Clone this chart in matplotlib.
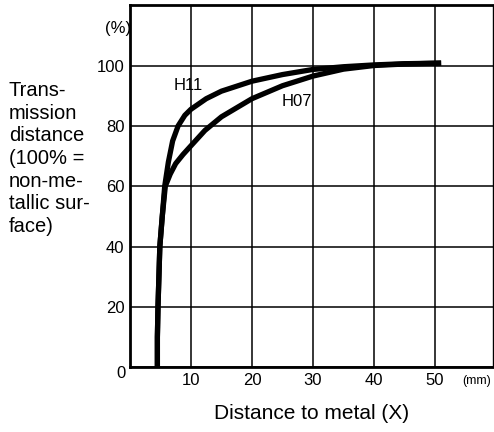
"""Transmission distance vs. distance to metal for H11 and H07 tags."""

import matplotlib
matplotlib.use("Agg")
import matplotlib.pyplot as plt
from matplotlib import font_manager

# values
h11_x = [4.5, 4.5, 4.6, 4.9, 5.3, 5.7, 6.3, 7.0, 7.9, 9.0, 10.0, 12.5, 15.0, 20.0, 25.0, 30.0, 35.0, 40.0, 45.0, 51.0]
h11_y = [0, 10, 20, 40, 50, 60, 68, 75, 80, 83.5, 85.5, 89, 91.5, 94.8, 97, 98.7, 99.6, 100.2, 100.6, 100.8]
h07_x = [4.5, 4.5, 4.6, 4.9, 5.3, 5.8, 6.6, 7.5, 8.7, 10.0, 12.3, 15.0, 20.0, 25.0, 30.0, 35.0, 40.0, 45.0, 51.0]
h07_y = [0, 10, 20, 40, 50, 60, 64, 67.5, 70.5, 73.4, 78.5, 83, 89, 93.3, 96.5, 98.8, 100, 100.5, 100.8]
x_ticks = [0, 10, 20, 30, 40, 50]
y_ticks = [0, 20, 40, 60, 80, 100]

narrow = "Liberation Sans Narrow"
names = {f.name for f in font_manager.fontManager.ttflist}
tick_font = [narrow, "DejaVu Sans"] if narrow in names else ["Liberation Sans", "DejaVu Sans"]
label_font = ["Liberation Sans", "DejaVu Sans"]

fig = plt.figure(figsize=(4.94, 4.32), dpi=100)
ax = fig.add_axes([0.263, 0.150, 0.735, 0.838])

ax.plot(h11_x, h11_y, color="black", lw=3.8, solid_capstyle="butt")
ax.plot(h07_x, h07_y, color="black", lw=3.8, solid_capstyle="butt")

ax.set_xlim(0, 59.5)
ax.set_ylim(0, 120)
ax.set_xticks(x_ticks)
ax.set_yticks(y_ticks)
ax.grid(True, color="black", lw=1.1)
ax.tick_params(length=0, pad=4)
for lbl in ax.get_xticklabels() + ax.get_yticklabels():
    lbl.set_family(tick_font)
    lbl.set_fontsize(12)
ax.get_xticklabels()[0].set_visible(False)
ax.get_yticklabels()[0].set_visible(False)
for side in ["left", "bottom", "top"]:
    ax.spines[side].set_linewidth(2)
ax.spines["right"].set_linewidth(1)

ax.text(9.5, 93.5, "H11", family=tick_font, fontsize=12, ha="center", va="center")
ax.text(27.4, 88, "H07", family=tick_font, fontsize=12, ha="center", va="center")

fig.text(0.245, 0.153, "0", family=tick_font, fontsize=12, ha="center", va="top")
fig.text(0.24, 0.935, "(%)", family=tick_font, fontsize=12, ha="center", va="center")
fig.text(0.935, 0.118, "(mm)", family=tick_font, fontsize=9, ha="left", va="center")

fig.text(0.018, 0.812, "Trans-\nmission\ndistance\n(100% =\nnon-me-\ntallic sur-\nface)",
         family=label_font, fontsize=14.5, ha="left", va="top", linespacing=1.24)
fig.text(0.63, 0.042, "Distance to metal (X)", family=label_font, fontsize=15,
         ha="center", va="center")

fig.savefig("out.png", dpi=100)
